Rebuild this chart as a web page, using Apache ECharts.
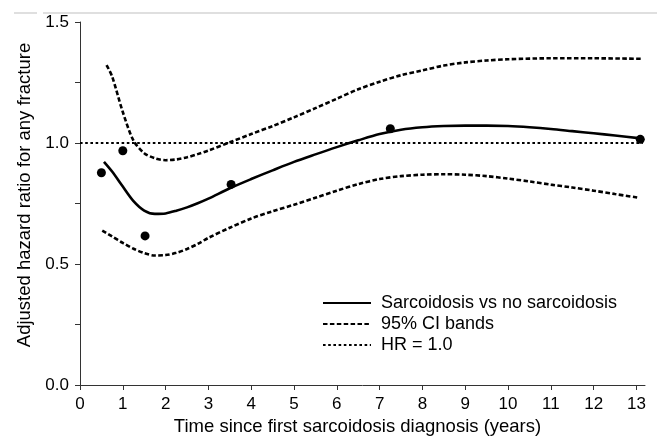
<!DOCTYPE html>
<html>
<head>
<meta charset="utf-8">
<script src="https://cdn.jsdelivr.net/npm/echarts@6/dist/echarts.min.js"></script>
<style>
html,body{margin:0;padding:0;background:#fff;}
#chart{width:657px;height:438px;}
</style>
</head>
<body>
<div id="chart"></div>
<script>
// Data
const xTicks = [0,1,2,3,4,5,6,7,8,9,10,11,12,13];
const yTicks = [0,0.25,0.5,0.75,1.0,1.25,1.5];
const yLabels = [0,0.5,1.0,1.5];

const mainX = [0.56,0.75,1.0,1.25,1.5,1.75,2.0,2.25,2.5,2.75,3.0,3.5,4.0,4.5,5.0,5.5,6.0,6.5,7.0,7.5,8.0,8.5,9.0,9.5,10.0,10.5,11.0,11.5,12.0,12.5,13.1];
const mainY = [0.922,0.882,0.820,0.760,0.721,0.707,0.709,0.720,0.734,0.751,0.770,0.813,0.851,0.887,0.922,0.953,0.983,1.011,1.037,1.055,1.065,1.070,1.072,1.072,1.070,1.065,1.058,1.049,1.040,1.031,1.019];

const upperX = [0.62,0.75,1.0,1.25,1.5,1.75,2.0,2.25,2.5,2.75,3.0,3.5,4.0,4.5,5.0,5.5,6.0,6.5,7.0,7.5,8.0,8.5,9.0,9.5,10.0,11.0,12.0,13.1];
const upperY = [1.322,1.275,1.128,1.010,0.958,0.937,0.929,0.932,0.941,0.954,0.969,1.003,1.037,1.070,1.106,1.144,1.183,1.222,1.253,1.280,1.300,1.320,1.333,1.341,1.346,1.350,1.350,1.348];

const lowerX = [0.52,0.75,1.0,1.25,1.5,1.75,2.0,2.25,2.5,2.75,3.0,3.5,4.0,4.5,5.0,5.5,6.0,6.5,7.0,7.5,8.0,8.5,9.0,9.5,10.0,10.5,11.0,11.5,12.0,12.5,13.05];
const lowerY = [0.638,0.614,0.587,0.563,0.545,0.535,0.537,0.546,0.562,0.583,0.608,0.650,0.688,0.718,0.745,0.774,0.803,0.830,0.851,0.863,0.869,0.871,0.869,0.863,0.853,0.841,0.828,0.816,0.803,0.789,0.774];

const pointX = [0.5,1.0,1.52,3.53,7.25,13.09];
const pointY = [0.877,0.968,0.616,0.829,1.059,1.015];

const refX = [0,13.15];
const refY = [1.0,1.0];

const names = ['Sarcoidosis vs no sarcoidosis','95% CI bands','HR = 1.0'];

const zip = (a,b) => a.map((v,i)=>[v,b[i]]);
const FONT = 'Liberation Sans, Arial, sans-serif';

const chart = echarts.init(document.getElementById('chart'), null, {renderer:'canvas'});
chart.setOption({
  animation:false,
  backgroundColor:'#fff',
  grid:{left:80,top:22,width:565,height:363,containLabel:false,outerBoundsMode:'none'},
  xAxis:{
    type:'value',min:0,max:13.2,offset:3,
    name:'Time since first sarcoidosis diagnosis (years)',
    nameLocation:'middle',nameGap:29,
    nameTextStyle:{fontFamily:FONT,fontSize:18.5,color:'#000',padding:[0,10,0,0]},
    axisLine:{show:true,lineStyle:{color:'#333',width:1}},
    axisTick:{show:true,length:5,lineStyle:{color:'#333'},customValues:xTicks},
    axisLabel:{fontFamily:FONT,fontSize:17,color:'#000',margin:8,customValues:xTicks},
    splitLine:{show:false}
  },
  yAxis:{
    type:'value',min:0,max:1.5,offset:1,
    name:'Adjusted hazard ratio for any fracture',
    nameLocation:'middle',nameGap:45,nameRotate:90,
    nameTextStyle:{fontFamily:FONT,fontSize:18.5,color:'#000',padding:[0,0,0,17]},
    axisLine:{show:true,lineStyle:{color:'#333',width:1}},
    axisTick:{show:true,length:5,lineStyle:{color:'#333'},customValues:yTicks},
    axisLabel:{fontFamily:FONT,fontSize:17,color:'#000',margin:10,customValues:yLabels,
      formatter:v=>Number(v).toFixed(1)},
    splitLine:{show:false}
  },
  legend:{
    data:names,orient:'vertical',left:317,top:289,itemGap:3,
    itemWidth:48,itemHeight:18,
    itemStyle:{opacity:0},
    textStyle:{fontFamily:FONT,fontSize:18,color:'#000',padding:[0,0,0,5]}
  },
  graphic:[
    {type:'line',shape:{x1:14,y1:13,x2:37,y2:13},style:{stroke:'#d4d4d4',lineWidth:1.5},silent:true},
    {type:'line',shape:{x1:43,y1:13,x2:657,y2:13},style:{stroke:'#d4d4d4',lineWidth:1.5},silent:true}
  ],
  series:[
    {name:names[0],type:'line',data:zip(mainX,mainY),smooth:0.3,symbol:'none',
      lineStyle:{color:'#000',width:2.6,type:'solid'},itemStyle:{color:'#000'},z:4},
    {name:names[1],type:'line',data:zip(upperX,upperY),smooth:0.3,symbol:'none',
      lineStyle:{color:'#000',width:2.6,type:[4.5,2.4]},itemStyle:{color:'#000'},z:3},
    {name:names[1],type:'line',data:zip(lowerX,lowerY),smooth:0.3,symbol:'none',
      lineStyle:{color:'#000',width:2.6,type:[4.5,2.4]},itemStyle:{color:'#000'},z:3},
    {name:names[2],type:'line',data:zip(refX,refY),symbol:'none',
      lineStyle:{color:'#000',width:1.8,type:[2.6,2.6]},itemStyle:{color:'#000'},z:2},
    {name:'Observed',type:'scatter',data:zip(pointX,pointY),symbol:'circle',symbolSize:9,
      itemStyle:{color:'#000',opacity:1},z:5}
  ]
});
</script>
</body>
</html>
